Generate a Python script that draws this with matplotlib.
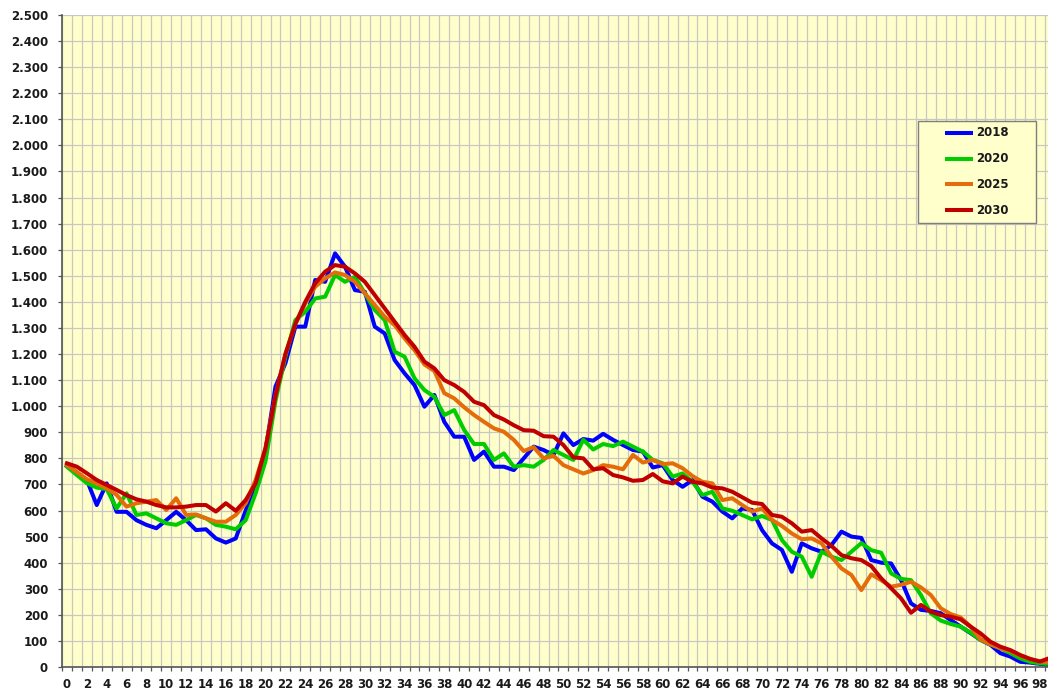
import numpy as np
import matplotlib
matplotlib.use("Agg")
import matplotlib.pyplot as plt
from matplotlib.ticker import MultipleLocator, FuncFormatter
from matplotlib.patches import Rectangle

# age groups 0..99
ages = np.arange(0, 100)
years = ["2018", "2020", "2025", "2030"]
colors = ["#0000ff", "#00cc00", "#e46c0a", "#c00000"]

y2018 = [770, 740, 717, 621, 704, 595, 595, 563, 545, 532,
         563, 595, 563, 525, 528, 493, 477, 493, 600, 691,
         830, 1075, 1165, 1305, 1305, 1484, 1477, 1586, 1535, 1445,
         1439, 1305, 1279, 1177, 1126, 1081, 998, 1043, 940, 883,
         883, 794, 826, 768, 768, 755, 800, 845, 832, 813,
         896, 851, 874, 868, 894, 871, 851, 832, 826, 765,
         774, 717, 691, 717, 653, 634, 596, 570, 608, 602,
         525, 474, 449, 365, 474, 455, 442, 468, 519, 500,
         495, 410, 400, 397, 333, 244, 219, 215, 206, 180,
         155, 130, 104, 85, 53, 40, 20, 17, 12, 10]

y2020 = [768, 736, 705, 688, 682, 608, 666, 583, 589, 570,
         551, 545, 563, 583, 570, 545, 538, 528, 563, 666,
         790, 1020, 1190, 1330, 1362, 1413, 1420, 1503, 1477, 1496,
         1433, 1369, 1330, 1209, 1190, 1107, 1062, 1036, 966, 985,
         909, 855, 855, 794, 819, 768, 774, 768, 794, 832,
         813, 794, 871, 834, 855, 847, 864, 845, 826, 794,
         781, 730, 742, 710, 659, 672, 608, 599, 583, 566,
         579, 564, 487, 442, 423, 346, 442, 423, 410, 442,
         475, 448, 438, 359, 338, 333, 276, 206, 178, 165,
         155, 132, 104, 87, 72, 53, 33, 20, 14, 12]

y2025 = [774, 748, 720, 704, 685, 660, 615, 628, 634, 640,
         602, 647, 583, 585, 570, 557, 557, 583, 628, 717,
         840, 1040, 1200, 1315, 1394, 1458, 1490, 1513, 1503, 1477,
         1433, 1388, 1343, 1311, 1260, 1215, 1160, 1135, 1050, 1030,
         996, 966, 940, 915, 902, 871, 828, 843, 800, 810,
         774, 758, 742, 755, 774, 768, 758, 813, 784, 794,
         778, 781, 762, 732, 710, 704, 640, 647, 621, 596,
         608, 564, 541, 512, 490, 493, 474, 423, 378, 353,
         295, 355, 333, 308, 315, 327, 305, 276, 225, 203,
         190, 155, 106, 87, 72, 61, 44, 30, 21, 18]

y2030 = [781, 768, 743, 717, 698, 679, 659, 643, 634, 621,
         612, 612, 615, 621, 621, 596, 628, 599, 640, 704,
         840, 1040, 1200, 1315, 1400, 1471, 1516, 1541, 1535, 1509,
         1477, 1426, 1375, 1324, 1273, 1228, 1171, 1145, 1100, 1081,
         1055, 1017, 1004, 966, 949, 927, 908, 906, 885, 883,
         851, 804, 800, 758, 762, 736, 727, 714, 717, 740,
         712, 704, 730, 710, 704, 688, 685, 672, 651, 630,
         625, 583, 576, 551, 519, 525, 493, 464, 429, 417,
         410, 387, 340, 302, 263, 208, 238, 212, 199, 193,
         183, 155, 129, 97, 78, 65, 46, 31, 21, 35]

series = [y2018, y2020, y2025, y2030]

W, H = 1048, 693
fig = plt.figure(figsize=(W / 100, H / 100), dpi=100)
fig.patch.set_facecolor("white")

ax = fig.add_axes([62 / W, 26 / H, (W - 62) / W, 652 / H])
ax.set_facecolor("#ffffcc")

for vals, c in zip(series, colors):
    ax.plot(ages, vals, color=c, lw=2.9, solid_joinstyle="round", zorder=3)

ax.set_xlim(-0.5, 98.8)
ax.set_ylim(0, 2500)

ax.set_xticks(np.arange(0, 99, 2))
ax.set_xticks(np.arange(-0.5, 99, 1), minor=True)
ax.yaxis.set_major_locator(MultipleLocator(100))
ax.yaxis.set_major_formatter(FuncFormatter(lambda v, p: f"{int(v):,}".replace(",", ".")))

ax.grid(axis="x", which="minor", color="#c8c8c0", lw=0.9)
ax.grid(axis="y", which="major", color="#c8c8c0", lw=0.9)
ax.set_axisbelow(True)

ax.tick_params(axis="x", which="major", length=0, pad=8)
ax.tick_params(axis="x", which="minor", length=3, width=0.9, color="#555555")
ax.tick_params(axis="y", which="major", length=3, width=0.9, color="#555555", pad=7)
for lab in ax.get_xticklabels() + ax.get_yticklabels():
    lab.set_fontsize(8.5)
    lab.set_fontweight("bold")
    lab.set_color("#1a1a1a")

for s in ["top", "right"]:
    ax.spines[s].set_visible(False)
for s in ["left", "bottom"]:
    ax.spines[s].set_color("#555555")
    ax.spines[s].set_linewidth(1.2)

# legend box drawn on a pixel-space overlay
ov = fig.add_axes([0, 0, 1, 1])
ov.set_xlim(0, W)
ov.set_ylim(H, 0)
ov.axis("off")
ov.add_patch(Rectangle((918, 121), 118, 102, facecolor="#ffffcc",
                       edgecolor="#7f7f7f", lw=1.0, zorder=1))
for i, (yr, c) in enumerate(zip(years, colors)):
    yy = 133 + i * 25.7
    ov.plot([945, 973], [yy, yy], color=c, lw=2.9, solid_capstyle="butt", zorder=2)
    ov.text(976, yy, yr, fontsize=8.5, fontweight="bold", color="#1a1a1a",
            va="center", ha="left", zorder=2)

fig.savefig("out.png", dpi=100)
